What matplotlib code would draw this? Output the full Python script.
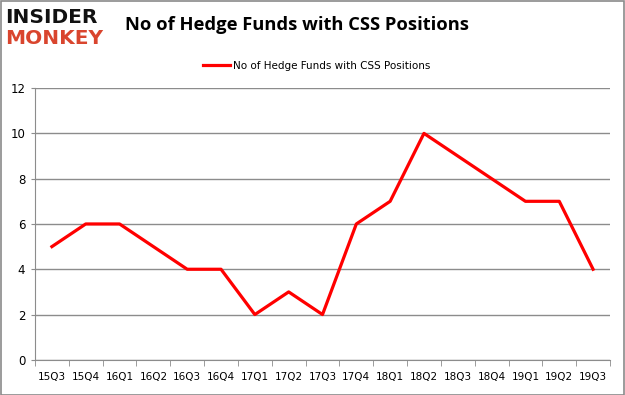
import matplotlib
matplotlib.use("Agg")
import matplotlib.pyplot as plt
from matplotlib.patches import Rectangle

quarters = ["15Q3", "15Q4", "16Q1", "16Q2", "16Q3", "16Q4", "17Q1", "17Q2", "17Q3",
            "17Q4", "18Q1", "18Q2", "18Q3", "18Q4", "19Q1", "19Q2", "19Q3"]
funds = [5, 6, 6, 5, 4, 4, 2, 3, 2, 6, 7, 10, 9, 8, 7, 7, 4]
series_name = "No of Hedge Funds with CSS Positions"

GRID = "#8c8c8c"

fig = plt.figure(figsize=(6.25, 3.95), dpi=100)
fig.patches.append(Rectangle((0.001, 0.001), 0.998, 0.997, transform=fig.transFigure,
                             fill=False, edgecolor="#8a8a8a", linewidth=1.2))

ax = fig.add_axes([0.056, 0.089, 0.920, 0.688])
x = list(range(len(quarters)))
ax.plot(x, funds, color="#ff0000", linewidth=2.3, label=series_name)

ax.set_xlim(-0.5, len(quarters) - 0.5)
ax.set_ylim(0, 12)
ax.set_yticks(range(0, 13, 2))
ax.yaxis.grid(True, color=GRID, linewidth=1.0)
ax.set_axisbelow(True)

ax.set_xticks(x)
ax.set_xticklabels(quarters, fontsize=7.5)
ax.set_xticks([i - 0.5 for i in range(len(quarters) + 1)], minor=True)
ax.tick_params(axis="x", which="major", length=0, pad=9)
ax.tick_params(axis="x", which="minor", length=4, color=GRID)
ax.tick_params(axis="y", length=3, color=GRID, labelsize=8.5, pad=4)

for side in ["top", "right"]:
    ax.spines[side].set_visible(False)
for side in ["left", "bottom"]:
    ax.spines[side].set_color(GRID)

fig.text(0.475, 0.937, series_name, ha="center", va="center",
         fontsize=13.2, fontweight="bold", family="Open Sans")

# legend
ax.legend(loc="upper center", bbox_to_anchor=(0.49, 1.135), frameon=False,
          fontsize=7.5, handlelength=2.6, handletextpad=0.3)

# logo
fig.text(0.008, 0.955, "INSIDER", ha="left", va="center", fontsize=14.5,
         fontweight="bold", color="#111111", family="DejaVu Sans")
fig.text(0.008, 0.902, "MONKEY", ha="left", va="center", fontsize=14.5,
         fontweight="bold", color="#d9452e", family="DejaVu Sans")

fig.savefig("out.png", dpi=100)
